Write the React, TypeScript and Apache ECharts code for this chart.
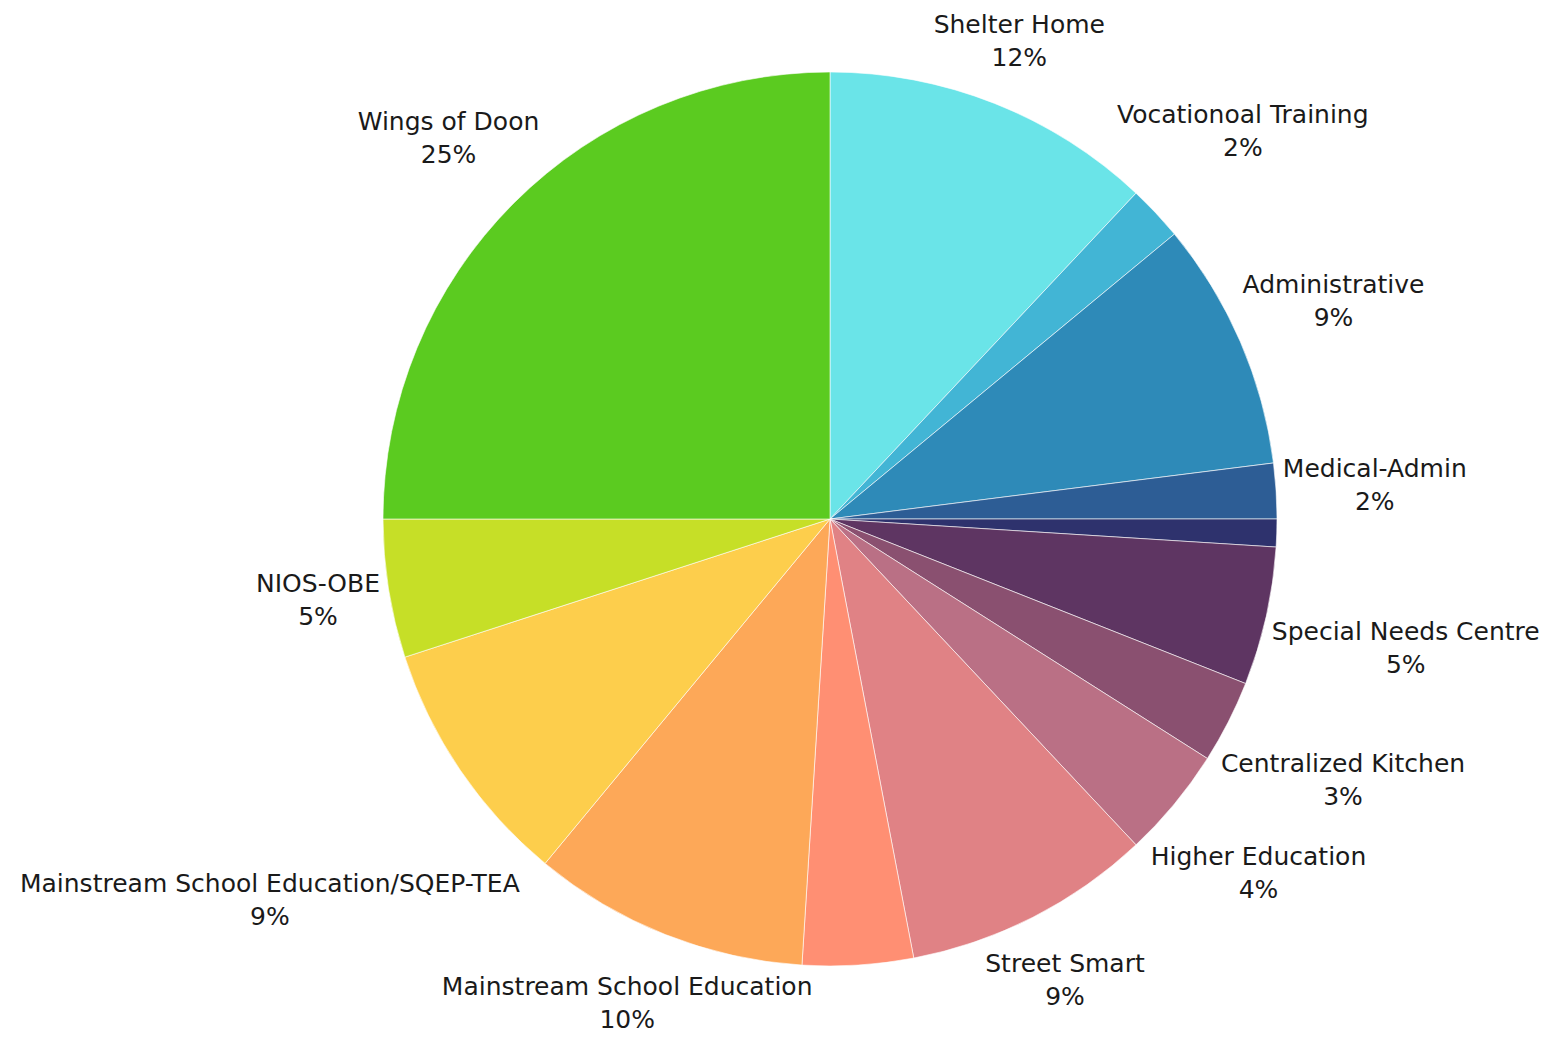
import React, { useEffect, useRef } from "react";
import * as echarts from "echarts";

const names = [
  "Shelter Home",
  "Vocationoal Training",
  "Administrative",
  "Medical-Admin",
  "Unlabeled A",
  "Special Needs Centre",
  "Centralized Kitchen",
  "Higher Education",
  "Street Smart",
  "Unlabeled B",
  "Mainstream School Education",
  "Mainstream School Education/SQEP-TEA",
  "NIOS-OBE",
  "Wings of Doon",
];
const values = [12, 2, 9, 2, 1, 5, 3, 4, 9, 4, 10, 9, 5, 25];
const showLabels = [true, true, true, true, false, true, true, true, true, false, true, true, true, true];
const colors = [
  "#6ae4e8",
  "#42b5d5",
  "#2e8ab8",
  "#2d5d95",
  "#2e326d",
  "#5e3562",
  "#8a5070",
  "#ba7085",
  "#e08285",
  "#ff8f73",
  "#fda858",
  "#fdce4c",
  "#c6df27",
  "#5bcb20",
];

const CX = 830;
const CY = 519;
const R = 447;
const R0 = 452;
const W = 1558;
const H = 1037;

export default function App() {
  const ref = useRef<HTMLDivElement>(null);
  useEffect(() => {
    if (!ref.current) return;
    const chart = echarts.init(ref.current, undefined, { renderer: "svg" });
    const total = values.reduce((a, b) => a + b, 0);
    const mids: number[] = [];
    let acc = 0;
    values.forEach((v) => {
      mids.push(((acc + v / 2) / total) * Math.PI * 2);
      acc += v;
    });
    chart.setOption({
      animation: false,
      backgroundColor: "#ffffff",
      series: [
        {
          type: "pie",
          center: [CX, CY],
          radius: [0, R],
          startAngle: 90,
          clockwise: true,
          avoidLabelOverlap: false,
          itemStyle: { borderColor: "#ffffff", borderWidth: 0.6 },
          label: {
            show: true,
            position: "outside",
            formatter: (p: any) => `${p.name}\n${Math.round(p.percent)}%`,
            fontFamily: "DejaVu Sans",
            fontSize: 25,
            lineHeight: 33,
            color: "#1a1a1a",
            align: "center",
          },
          labelLine: { show: false },
          labelLayout: (params: any) => {
            const i = params.dataIndex;
            const m = mids[i];
            const w = params.labelRect.width;
            const h = params.labelRect.height;
            const s = Math.sin(m);
            const c = Math.cos(m);
            const d = R0 + (w / 2) * Math.abs(s) + (h / 2) * Math.abs(c);
            let x = CX + d * s;
            let y = CY - d * c;
            x = Math.max(w / 2 + 4, Math.min(W - w / 2 - 4, x));
            y = Math.max(h / 2 + 2, Math.min(H - h / 2 - 1, y));
            return { x, y, align: "center", verticalAlign: "middle" };
          },
          data: names.map((n, i) => ({
            name: n,
            value: values[i],
            itemStyle: { color: colors[i] },
            label: { show: showLabels[i] },
          })),
        },
      ],
    });
    return () => chart.dispose();
  }, []);
  return (
    <div
      ref={ref}
      style={{ position: "fixed", left: 0, top: 0, width: W, height: H }}
    />
  );
}
